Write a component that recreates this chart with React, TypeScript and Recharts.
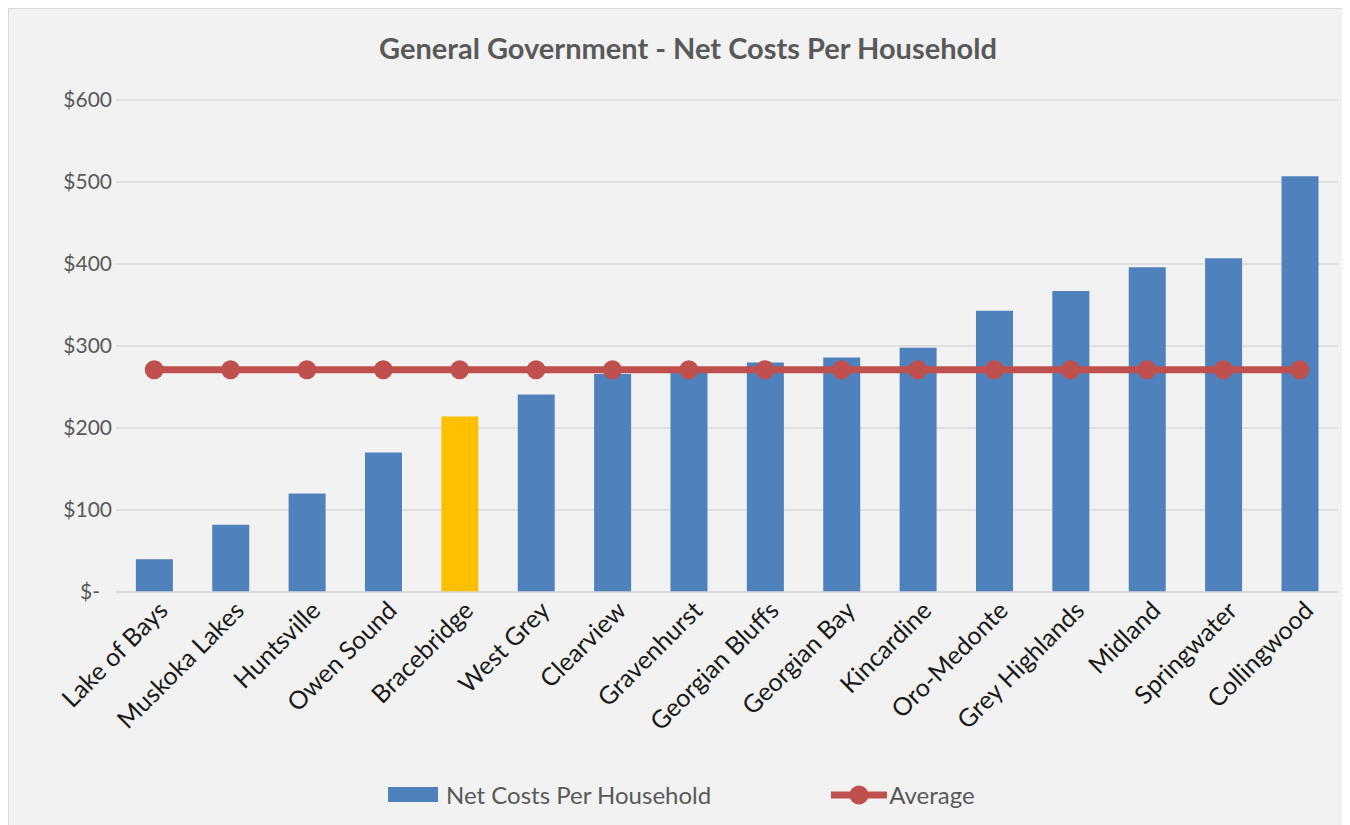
import React from "react";
import { ComposedChart, Bar, Line, XAxis, YAxis, CartesianGrid, Cell } from "recharts";

const categories = [
  "Lake of Bays", "Muskoka Lakes", "Huntsville", "Owen Sound", "Bracebridge", "West Grey",
  "Clearview", "Gravenhurst", "Georgian Bluffs", "Georgian Bay", "Kincardine", "Oro-Medonte",
  "Grey Highlands", "Midland", "Springwater", "Collingwood",
];
const netCosts = [40, 82, 120, 170, 214, 241, 266, 268, 280, 286, 298, 343, 367, 396, 407, 507];
const averageValues = [271, 271, 271, 271, 271, 271, 271, 271, 271, 271, 271, 271, 271, 271, 271, 271];
const yTicks = [0, 100, 200, 300, 400, 500, 600];
const highlighted = "Bracebridge";

const title = "General Government - Net Costs Per Household";
const barLabel = "Net Costs Per Household";
const lineLabel = "Average";

const data = categories.map((name, i) => ({ name, net: netCosts[i], avg: averageValues[i] }));

const BLUE = "#4f81bd";
const GOLD = "#ffc000";
const RED = "#c0504d";
const FONT = "Lato, 'Open Sans', sans-serif";

const YTick = (props: any) => {
  const { x, y, payload } = props;
  const v = payload.value;
  const label = v === 0 ? "$-" : `$${v}`;
  return (
    <text x={v === 0 ? x - 12 : x} y={y} dy="0.35em" textAnchor="end" fill="#595959" fontSize={21} fontFamily={FONT}>
      {label}
    </text>
  );
};

const XTick = (props: any) => {
  const { x, y, payload } = props;
  return (
    <g transform={`translate(${x + 9},${y + 14})`}>
      <text textAnchor="end" transform="rotate(-45)" dy="0.35em" fill="#1a1a1a" fontSize={25} fontFamily={FONT}>
        {payload.value}
      </text>
    </g>
  );
};

export default function App() {
  const W = 1342;
  const H = 817;
  return (
    <div
      style={{
        position: "relative",
        width: W,
        height: H,
        background: "#f2f2f2",
        borderTop: "1px solid #d9d9d9",
        borderLeft: "1px solid #d9d9d9",
        boxSizing: "border-box",
        fontFamily: FONT,
      }}
    >
      <div
        style={{
          position: "absolute",
          top: 21,
          left: 0,
          width: W + 16,
          textAlign: "center",
          fontSize: 29,
          fontWeight: 700,
          color: "#595959",
        }}
      >
        {title}
      </div>
      <div style={{ position: "absolute", top: 0, left: 0 }}>
        <ComposedChart
          width={W - 1}
          height={H - 1}
          data={data}
          margin={{ top: 91, right: 12, bottom: 0, left: 0 }}
          barCategoryGap="26%"
        >
          <CartesianGrid vertical={false} stroke="#d9d9d9" strokeWidth={1.5} />
          <XAxis
            dataKey="name"
            interval={0}
            height={233}
            tickLine={false}
            axisLine={{ stroke: "#d9d9d9", strokeWidth: 1.5 }}
            tickSize={0}
            tickMargin={0}
            tick={<XTick />}
          />
          <YAxis
            width={107}
            domain={[0, 600]}
            ticks={yTicks}
            tickLine={false}
            axisLine={false}
            tickSize={0}
            tickMargin={4}
            tick={<YTick />}
          />
          <Bar dataKey="net" isAnimationActive={false}>
            {data.map((d) => (
              <Cell key={d.name} fill={d.name === highlighted ? GOLD : BLUE} />
            ))}
          </Bar>
          <Line
            dataKey="avg"
            stroke={RED}
            strokeWidth={7}
            dot={{ r: 9.5, fill: RED, stroke: "none" }}
            isAnimationActive={false}
          />
        </ComposedChart>
      </div>
      <div
        style={{
          position: "absolute",
          top: 771,
          left: 379,
          display: "flex",
          alignItems: "center",
          fontSize: 24,
          color: "#595959",
          whiteSpace: "nowrap",
        }}
      >
        <div style={{ width: 50, height: 15, background: BLUE, marginRight: 8 }} />
        <span>{barLabel}</span>
        <div style={{ width: 120 }} />
        <svg width={56} height={20} style={{ marginRight: 2 }}>
          <line x1={0} y1={10} x2={56} y2={10} stroke={RED} strokeWidth={7} />
          <circle cx={28} cy={10} r={9.5} fill={RED} />
        </svg>
        <span>{lineLabel}</span>
      </div>
    </div>
  );
}
